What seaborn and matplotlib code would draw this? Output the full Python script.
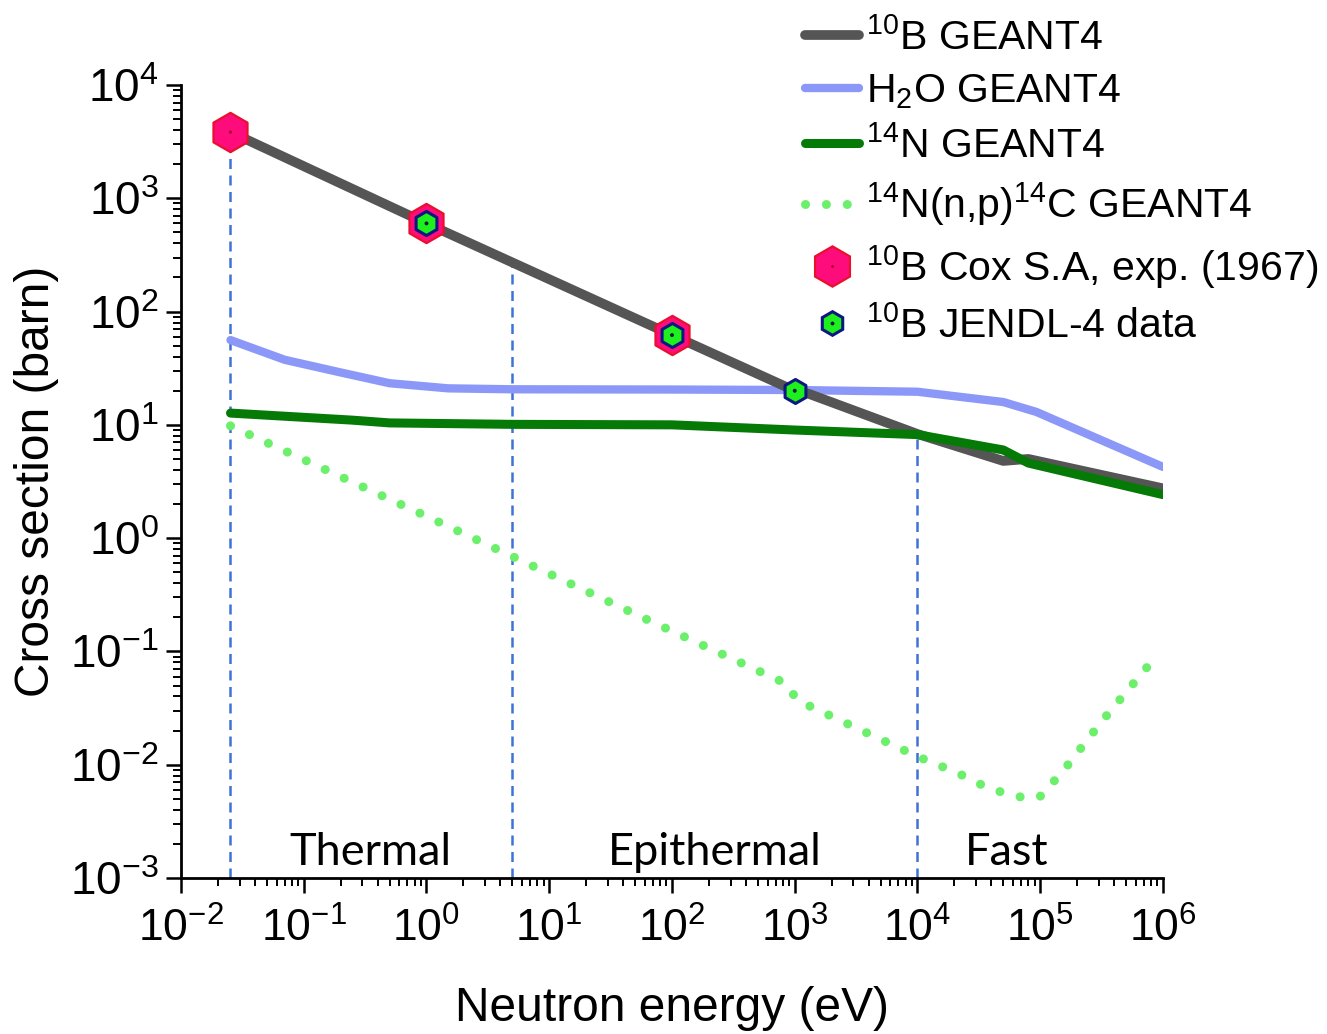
import matplotlib
matplotlib.use("Agg")
import matplotlib.pyplot as plt
from matplotlib.lines import Line2D
from matplotlib.legend_handler import HandlerTuple
from matplotlib.ticker import LogLocator, NullFormatter
import pandas as pd
import seaborn as sns

# ---- data (energy in eV, cross section in barn) ----
b10_energy = [0.0253, 1.0, 100.0, 1000.0, 1300.0, 1e4, 5e4, 8e4, 1e6]
b10_sigma = [3840, 600, 62, 20, 18.8, 8.3, 4.8, 5.0, 2.75]

h2o_energy = [0.0253, 0.07, 0.2, 0.5, 1.5, 5.0, 100.0, 1000.0, 1e4, 5e4, 9.3e4, 1e6]
h2o_sigma = [56, 37.5, 29, 23.3, 21.0, 20.6, 20.5, 20.3, 19.6, 15.9, 13.0, 4.25]

n14_energy = [0.0253, 0.25, 0.5, 5.0, 100.0, 1000.0, 1e4, 5e4, 8e4, 1e6]
n14_sigma = [12.7, 11.0, 10.4, 10.1, 10.0, 9.0, 8.2, 6.0, 4.6, 2.42]

np_energy = [0.0253, 1.0, 5.0, 60.0, 850.0, 1050.0, 1e4, 2.1e4, 3.9e4,
             7.9e4, 1.02e5, 1.66e5, 3.2e5, 8.3e5]
np_sigma = [9.8, 1.56, 0.69, 0.195, 0.052, 0.037, 0.0118, 0.0085, 0.0061,
            0.0050, 0.0053, 0.0098, 0.0244, 0.084]

cox_energy = [0.0253, 1.0, 100.0]
cox_sigma = [3840, 600, 62]

jendl_energy = [1.0, 100.0, 1000.0]
jendl_sigma = [600, 62, 20]

# neutron energy region boundaries and the curve value where each marker line stops
boundary_energy = [0.0253, 5.0, 1e4]
boundary_top = [3840, 280, 8.3]

region_names = ["Thermal", "Epithermal", "Fast"]
region_xfrac = [0.1925, 0.544, 0.841]

legend_labels = [
    r"$^{10}$B GEANT4",
    r"H$_2$O GEANT4",
    r"$^{14}$N GEANT4",
    r"$^{14}$N(n,p)$^{14}$C GEANT4",
    r"$^{10}$B Cox S.A, exp. (1967)",
    r"$^{10}$B JENDL-4 data",
]

# ---- styling ----
sns.set_theme(style="ticks")
plt.rcParams["font.family"] = ["Liberation Sans", "DejaVu Sans"]
plt.rcParams["mathtext.fontset"] = "custom"
plt.rcParams["mathtext.rm"] = "Liberation Sans"
plt.rcParams["mathtext.sf"] = "Liberation Sans"
plt.rcParams["mathtext.it"] = "Liberation Sans:italic"
plt.rcParams["mathtext.bf"] = "Liberation Sans:bold"
plt.rcParams["axes.unicode_minus"] = False
for key in ("text.color", "axes.labelcolor", "xtick.color", "ytick.color",
            "axes.edgecolor"):
    plt.rcParams[key] = "black"

GRAY = "#555555"
H2O_C = "#8b98f8"
N_C = "#067a06"
NP_C = "#6cf06c"
PINK = "#ff0c7c"
PINK_EDGE = "#e8102c"
JGREEN = "#1ef01e"
NAVY = "#0d1780"
VLINE = "#3f72d6"
DOTTED = (0, (0.01, 2.3))

fig = plt.figure(figsize=(13.27, 10.34), dpi=100)
ax = fig.add_axes([0.1364, 0.1509, 0.74, 0.7669])
ax.set_xscale("log")
ax.set_yscale("log")

# region boundaries
ax.vlines(boundary_energy, 1e-3, boundary_top, colors=VLINE, lw=1.8,
          linestyles=[(0, (4, 2.6))], zorder=1)

def frame(e, s):
    return pd.DataFrame({"energy": e, "sigma": s})

sns.lineplot(data=frame(h2o_energy, h2o_sigma), x="energy", y="sigma", ax=ax,
             color=H2O_C, lw=6.0, sort=False, estimator=None,
             solid_capstyle="round", solid_joinstyle="round", zorder=2)
sns.lineplot(data=frame(np_energy, np_sigma), x="energy", y="sigma", ax=ax,
             color=NP_C, lw=6.5, linestyle=DOTTED, dash_capstyle="round",
             sort=False, estimator=None, zorder=2)
sns.lineplot(data=frame(b10_energy, b10_sigma), x="energy", y="sigma", ax=ax,
             color=GRAY, lw=7.0, sort=False, estimator=None,
             solid_capstyle="round", solid_joinstyle="round", zorder=3)
sns.lineplot(data=frame(n14_energy, n14_sigma), x="energy", y="sigma", ax=ax,
             color=N_C, lw=6.5, sort=False, estimator=None,
             solid_capstyle="round", solid_joinstyle="round", zorder=4)

# measured / evaluated points
sns.scatterplot(data=frame(cox_energy, cox_sigma), x="energy", y="sigma", ax=ax,
                marker="h", s=800, color=PINK, edgecolor=PINK_EDGE,
                linewidth=1.6, zorder=5)
sns.scatterplot(data=frame(cox_energy, cox_sigma), x="energy", y="sigma", ax=ax,
                marker="o", s=5, color="#a0002a", edgecolor="none", zorder=6)
sns.scatterplot(data=frame(jendl_energy, jendl_sigma), x="energy", y="sigma", ax=ax,
                marker="h", s=300, color=JGREEN, edgecolor=NAVY,
                linewidth=2.2, zorder=7)
sns.scatterplot(data=frame(jendl_energy, jendl_sigma), x="energy", y="sigma", ax=ax,
                marker="o", s=8, color="#0a1a40", edgecolor="none", zorder=8)

ax.set_xlim(1e-2, 1e6)
ax.set_ylim(1e-3, 1e4)
ax.xaxis.set_major_locator(LogLocator(base=10, numticks=20))
ax.yaxis.set_major_locator(LogLocator(base=10, numticks=20))
ax.xaxis.set_minor_locator(LogLocator(base=10, subs=range(2, 10), numticks=100))
ax.yaxis.set_minor_locator(LogLocator(base=10, subs=range(2, 10), numticks=100))
ax.xaxis.set_minor_formatter(NullFormatter())
ax.yaxis.set_minor_formatter(NullFormatter())

sns.despine(ax=ax)
for side in ("left", "bottom"):
    ax.spines[side].set_linewidth(2.0)
    ax.spines[side].set_color("black")
ax.tick_params(axis="both", which="major", length=11, width=1.8,
               labelsize=32, color="black", labelcolor="black")
ax.tick_params(axis="y", which="major", labelsize=33)
ax.tick_params(axis="both", which="minor", length=5.5, width=1.4, color="black")
ax.tick_params(axis="x", which="major", pad=10)
ax.tick_params(axis="y", which="major", pad=5)
ax.grid(False)

ax.set_xlabel("Neutron energy (eV)", fontsize=34.5, labelpad=26, color="black")
ax.set_ylabel("Cross section (barn)", fontsize=34.5, labelpad=8, color="black")

for name, xf in zip(region_names, region_xfrac):
    ax.text(xf, 0.016, name, transform=ax.transAxes, ha="center", va="baseline",
            fontsize=32.5, family=["Lato", "DejaVu Sans"], color="black")

# legend
h_b10 = Line2D([], [], color=GRAY, lw=7.0)
h_h2o = Line2D([], [], color=H2O_C, lw=6.0)
h_n14 = Line2D([], [], color=N_C, lw=6.5)
h_np = Line2D([], [], color=NP_C, lw=6.5, linestyle=DOTTED, dash_capstyle="round")
h_cox = (Line2D([], [], ls="none", marker="h", ms=29, mfc=PINK, mec=PINK_EDGE, mew=1.6),
         Line2D([], [], ls="none", marker="o", ms=2, mfc="#a0002a", mec="none"))
h_jendl = (Line2D([], [], ls="none", marker="h", ms=17, mfc=JGREEN, mec=NAVY, mew=2.2),
           Line2D([], [], ls="none", marker="o", ms=2.8, mfc="#0a1a40", mec="none"))
leg = ax.legend([h_b10, h_h2o, h_n14, h_np, h_cox, h_jendl], legend_labels,
                loc="upper left", bbox_to_anchor=(805 / 1327, 1 - 18 / 1034),
                bbox_transform=fig.transFigure, frameon=False, fontsize=29.5,
                handlelength=1.33, handletextpad=0.15, labelspacing=0.36,
                borderpad=0, borderaxespad=0, numpoints=1,
                handler_map={tuple: HandlerTuple(ndivide=1)})
for t in leg.get_texts():
    t.set_color("black")

fig.savefig("out.png", dpi=100)
